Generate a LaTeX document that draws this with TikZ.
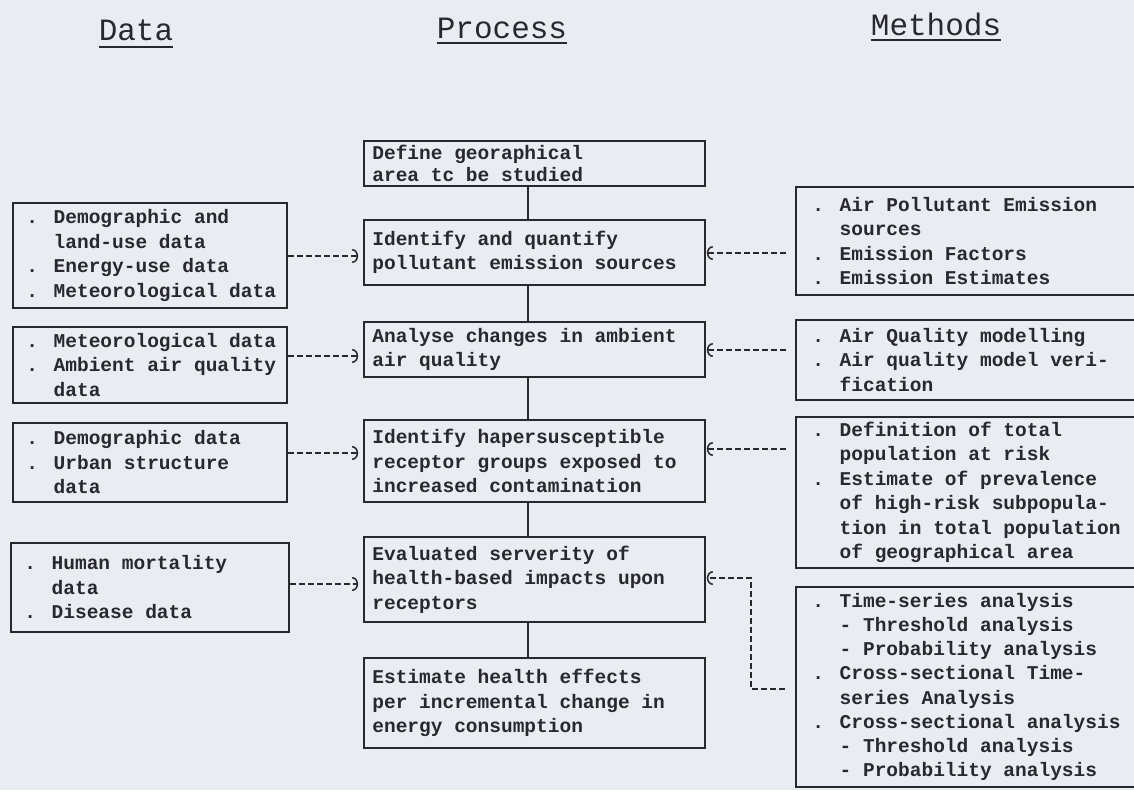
\documentclass[tikz,border=0pt]{standalone}
\usepackage{fontspec}
\newfontfamily\bodyfont{Liberation Mono}
\usetikzlibrary{arrows.meta}
\definecolor{paper}{RGB}{233,237,241}
\definecolor{ink}{RGB}{40,40,46}
\begin{document}
\begin{tikzpicture}[x=1pt,y=-1pt,
  box/.style={draw=ink, line width=1.7pt, inner sep=0pt},
  txt/.style={anchor=west, align=left, inner sep=0pt, text=ink,
    font={\bodyfont\bfseries\fontsize{19.5}{24.5}\selectfont}},
  head/.style={inner sep=0pt, anchor=base, text=ink,
    font={\bodyfont\fontsize{31}{31}\selectfont}},
  link/.style={draw=ink, line width=1.7pt},
  feed/.style={draw=ink, line width=1.4pt, dash pattern=on 6pt off 3pt,
    -{Arc Barb[length=6pt,width=14pt,line width=1.5pt]}},
  uline/.style={draw=ink, line width=2.2pt}]
\fill[paper] (0,0) rectangle (1134,790);
\useasboundingbox (0,0) rectangle (1134,790);

% headers
\node[head] (hdata) at (136,40) {Data};
\node[head] (hproc) at (502,38) {Process};
\node[head] (hmeth) at (936,35) {Methods};
\draw[uline] ([yshift=-7pt]hdata.base west) -- ([yshift=-7pt]hdata.base east);
\draw[uline] ([yshift=-5pt]hproc.base west) -- ([yshift=-5pt]hproc.base east);
\draw[uline] ([yshift=-5pt]hmeth.base west) -- ([yshift=-5pt]hmeth.base east);

% process column
\node[box, minimum width=341, minimum height=45] (p1) at (534.5,163.5) {};
\node[box, minimum width=341, minimum height=65] (p2) at (534.5,252.5) {};
\node[box, minimum width=341, minimum height=55] (p3) at (534.5,349.5) {};
\node[box, minimum width=341, minimum height=82] (p4) at (534.5,461) {};
\node[box, minimum width=341, minimum height=85] (p5) at (534.5,579.5) {};
\node[box, minimum width=341, minimum height=90] (p6) at (534.5,703) {};
\node[txt, font={\bodyfont\bfseries\fontsize{19.5}{22}\selectfont}] (p1t) at ([xshift=9pt]p1.west) {Define georaphical\\area tc be studied};
\node[txt] (p2t) at ([xshift=9pt]p2.west) {Identify and quantify\\pollutant emission sources};
\node[txt] (p3t) at ([xshift=9pt]p3.west) {Analyse changes in ambient\\air quality};
\node[txt] (p4t) at ([xshift=9pt]p4.west) {Identify hapersusceptible\\receptor groups exposed to\\increased contamination};
\node[txt] (p5t) at ([xshift=9pt]p5.west) {Evaluated serverity of\\health-based impacts upon\\receptors};
\node[txt] (p6t) at ([xshift=9pt]p6.west) {Estimate health effects\\per incremental change in\\energy consumption};

\coordinate (cx) at (528,0);
\draw[link] (p1.south -| cx) -- (p2.north -| cx);
\draw[link] (p2.south -| cx) -- (p3.north -| cx);
\draw[link] (p3.south -| cx) -- (p4.north -| cx);
\draw[link] (p4.south -| cx) -- (p5.north -| cx);
\draw[link] (p5.south -| cx) -- (p6.north -| cx);

% data column
\node[box, minimum width=274, minimum height=105] (l1) at (150,255.5) {};
\node[box, minimum width=274, minimum height=76] (l2) at (150,365) {};
\node[box, minimum width=274, minimum height=79] (l3) at (150,462.5) {};
\node[box, minimum width=278, minimum height=89] (l4) at (150,587.5) {};
\node[txt] (l1t) at ([xshift=14pt]l1.west) {. Demographic and\\\phantom{. }land-use data\\. Energy-use data\\. Meteorological data};
\node[txt] (l2t) at ([xshift=14pt]l2.west) {. Meteorological data\\. Ambient air quality\\\phantom{. }data};
\node[txt] (l3t) at ([xshift=14pt]l3.west) {. Demographic data\\. Urban structure\\\phantom{. }data};
\node[txt] (l4t) at ([xshift=14pt]l4.west) {. Human mortality\\\phantom{. }data\\. Disease data};

% methods column (open to the right edge)
\node[box, minimum width=344, minimum height=108] (r1) at (968,241) {};
\node[box, minimum width=344, minimum height=80] (r2) at (968,360) {};
\node[box, minimum width=344, minimum height=151] (r3) at (968,492.5) {};
\node[box, minimum width=344, minimum height=200] (r4) at (968,687) {};
\node[txt] (r1t) at ([xshift=17pt]r1.west) {. Air Pollutant Emission\\\phantom{. }sources\\. Emission Factors\\. Emission Estimates};
\node[txt] (r2t) at ([xshift=17pt]r2.west) {. Air Quality modelling\\. Air quality model veri-\\\phantom{. }fication};
\node[txt] (r3t) at ([xshift=17pt]r3.west) {. Definition of total\\\phantom{. }population at risk\\. Estimate of prevalence\\\phantom{. }of high-risk subpopula-\\\phantom{. }tion in total population\\\phantom{. }of geographical area};
\node[txt, font={\bodyfont\bfseries\fontsize{19.5}{24.2}\selectfont}] (r4t) at ([xshift=17pt]r4.west) {. Time-series analysis\\\phantom{. }- Threshold analysis\\\phantom{. }- Probability analysis\\. Cross-sectional Time-\\\phantom{. }series Analysis\\. Cross-sectional analysis\\\phantom{. }- Threshold analysis\\\phantom{. }- Probability analysis};

% data -> process
\coordinate (ya) at (0,256);
\coordinate (yb) at (0,356);
\coordinate (yc) at (0,453);
\coordinate (yd) at (0,584);
\draw[feed, shorten >=5pt] (l1.east |- ya) -- (p2.west |- ya);
\draw[feed, shorten >=5pt] (l2.east |- yb) -- (p3.west |- yb);
\draw[feed, shorten >=5pt] (l3.east |- yc) -- (p4.west |- yc);
\draw[feed, shorten >=5pt] (l4.east |- yd) -- (p5.west |- yd);

% methods -> process
\coordinate (ye) at (0,253);
\coordinate (yf) at (0,350);
\coordinate (yg) at (0,449);
\draw[feed, shorten <=9pt, shorten >=1pt] (r1.west |- ye) -- (p2.east |- ye);
\draw[feed, shorten <=9pt, shorten >=1pt] (r2.west |- yf) -- (p3.east |- yf);
\draw[feed, shorten <=9pt, shorten >=1pt] (r3.west |- yg) -- (p4.east |- yg);
\coordinate (k1) at (751,689);
\coordinate (k2) at (751,578);
\draw[feed, shorten <=10pt, shorten >=1pt] (r4.west |- k1) -- (k1) -- (k2) -- (p5.east |- k2);
\end{tikzpicture}
\end{document}
